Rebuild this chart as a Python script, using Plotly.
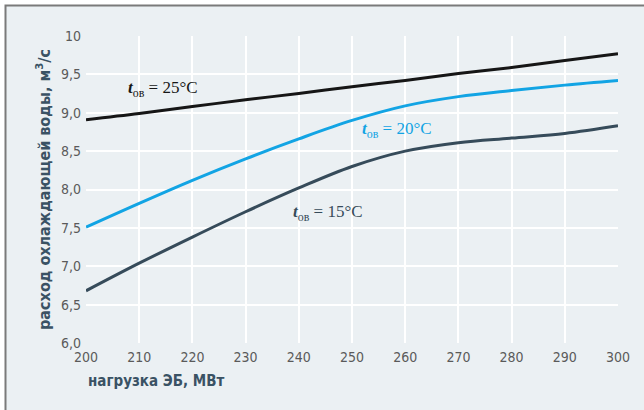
import plotly.graph_objects as go

# Электроблок: нагрузка, МВт
load_mw = [200, 210, 220, 230, 240, 250, 260, 270, 280, 290, 300]

# Расход охлаждающей воды, м3/с, при разной температуре охлаждающей воды
flow_25 = [8.91, 8.99, 9.08, 9.17, 9.25, 9.34, 9.42, 9.51, 9.59, 9.68, 9.77]
flow_20 = [7.51, 7.82, 8.12, 8.40, 8.66, 8.90, 9.09, 9.21, 9.29, 9.36, 9.42]
flow_15 = [6.68, 7.04, 7.38, 7.71, 8.02, 8.30, 8.50, 8.61, 8.67, 8.73, 8.83]

x_ticks = [200, 210, 220, 230, 240, 250, 260, 270, 280, 290, 300]
y_ticks = [6.0, 6.5, 7.0, 7.5, 8.0, 8.5, 9.0, 9.5, 10.0]
y_tick_text = ["6,0", "6,5", "7,0", "7,5", "8,0", "8,5", "9,0", "9,5", "10"]

C_BLACK = "#161616"
C_BLUE = "#12a4e4"
C_SLATE = "#364b5a"

fig = go.Figure()
for ys, col in [(flow_25, C_BLACK), (flow_20, C_BLUE), (flow_15, C_SLATE)]:
    fig.add_trace(go.Scatter(
        x=load_mw, y=ys, mode="lines",
        line=dict(color=col, width=3, shape="spline", smoothing=1.0),
        hoverinfo="skip", showlegend=False,
    ))

W, H = 644, 410
L, R, T, B = 86, 26, 36, 67
pw, ph = W - L - R, H - T - B


def px_x(p):
    return (p - L) / pw


def px_y(p):
    return (H - B - p) / ph


# Внешняя рамка
fig.add_shape(type="rect", xref="paper", yref="paper", layer="below",
              x0=px_x(5.5), x1=px_x(700), y0=px_y(5.5), y1=px_y(460),
              fillcolor="#ebf0f3", line=dict(color="#7a7a7a", width=2))

serif = "Liberation Serif"
labels = [
    (207.5, 9.31, "25", C_BLACK),
    (251.5, 8.77, "20", C_BLUE),
    (238.5, 7.70, "15", C_SLATE),
]
for x, y, t, col in labels:
    fig.add_annotation(
        x=x, y=y, xref="x", yref="y", showarrow=False, xanchor="left",
        text=f"<b><i>t</i></b><sub>ов</sub> = {t}°C",
        font=dict(family=serif, size=17, color=col),
    )

narrow = "DejaVu Sans Condensed, Liberation Sans Narrow, Roboto, sans-serif"
tick_font = dict(family=narrow, size=14, color="#5a5a5a")
title_font = dict(family=narrow, size=16, color="#3a5264")

# Подпись оси X выровнена по левому краю области построения
fig.add_annotation(
    x=0, y=px_y(381), xref="paper", yref="paper", showarrow=False,
    xanchor="left", yanchor="middle",
    text="<b>нагрузка ЭБ, МВт</b>",
    font=dict(family=narrow, size=15, color="#3a5264"),
)

fig.update_xaxes(
    range=[200, 300], tickvals=x_ticks, showgrid=True, gridcolor="#ffffff",
    gridwidth=1.5, zeroline=False, showline=False, ticks="",
    tickfont=tick_font, ticklabelstandoff=4,
)
fig.update_yaxes(
    range=[6.0, 10.0], tickvals=y_ticks, ticktext=y_tick_text, showgrid=True,
    gridcolor="#ffffff", gridwidth=1.5, zeroline=False, showline=False,
    ticks="", tickfont=tick_font, ticklabelstandoff=4,
    title=dict(text="<b>расход охлаждающей воды, м<sup>3</sup>/с</b>",
               font=title_font, standoff=6),
)

fig.update_layout(
    width=W, height=H,
    margin=dict(l=L, r=R, t=T, b=B),
    paper_bgcolor="#ffffff",
    plot_bgcolor="#d3dfe6",
)

fig.write_html("out.html")
